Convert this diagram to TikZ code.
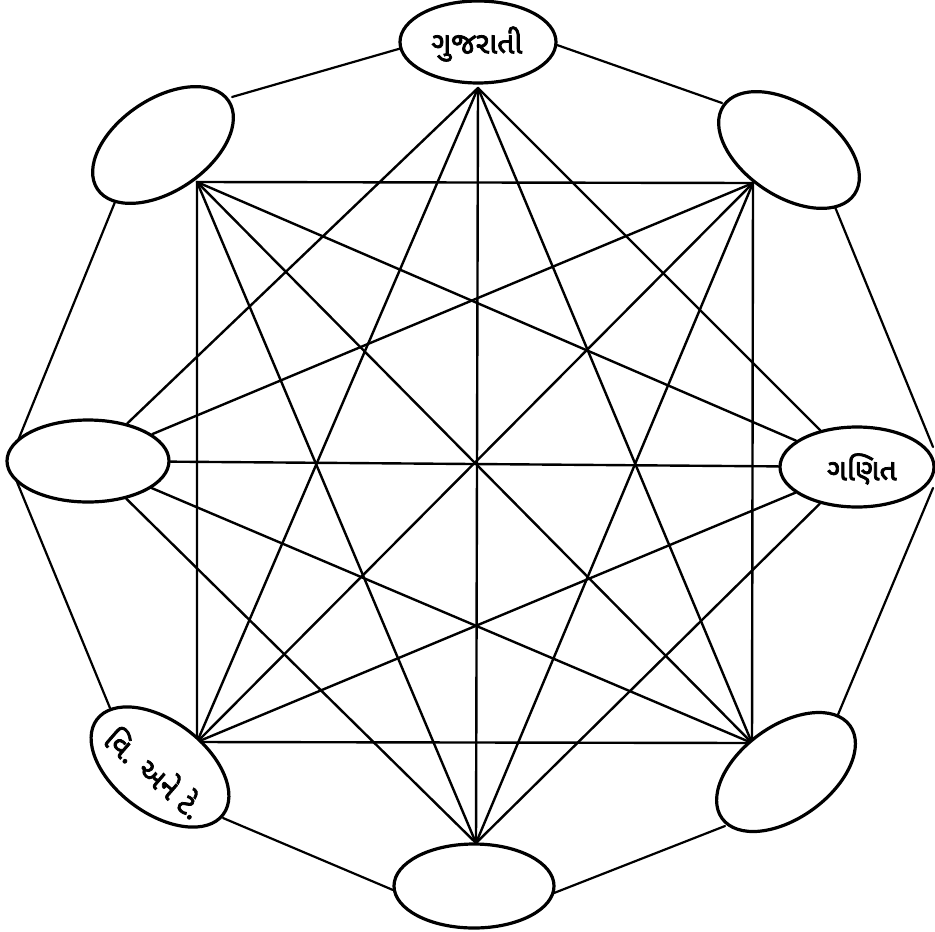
\documentclass[tikz,border=0pt]{standalone}
\usepackage{fontspec}
\newfontfamily\guj[Script=Gujarati,FakeBold=2.5]{Noto Sans Gujarati UI}
\usetikzlibrary{shapes.geometric,backgrounds}
\begin{document}
\begin{tikzpicture}[x=0.5pt,y=-0.5pt,
  chord/.style={line width=1.2pt,line cap=round},
  rim/.style={line width=1.1pt,line cap=round},
  bubble/.style={ellipse,draw,line width=1.6pt,fill=white,inner sep=0pt},
  lbl/.style={font=\guj\fontsize{15}{17}\selectfont,inner sep=0pt}]
\useasboundingbox (0,0) rectangle (935,931);

% ellipses
\node[bubble,minimum width=78pt,minimum height=41pt] (T) at (478,42) {};
\node[lbl] (Ttxt) at (477,44) {ગુજરાતી};
\node[bubble,minimum width=80pt,minimum height=42pt] (B) at (474,886) {};
\node[bubble,minimum width=81pt,minimum height=41pt] (L) at (88,461) {};
\node[bubble,minimum width=77pt,minimum height=40pt] (R) at (857,467) {};
\node[lbl] (Rtxt) at (862,469) {ગણિત};
\node[bubble,minimum width=79pt,minimum height=46pt,rotate=34] (TL) at (163,145) {};
\node[bubble,minimum width=79pt,minimum height=46pt,rotate=-34] (TR) at (789,150) {};
\node[bubble,minimum width=79pt,minimum height=46pt,rotate=-37] (BL) at (160,767) {};
\node[lbl,rotate=-41] (BLtxt) at (155,772) {વિ. અને ટે.};
\node[bubble,minimum width=79pt,minimum height=46pt,rotate=36] (BR) at (786,772) {};

% hubs
\coordinate (t) at (478,88);
\coordinate (b) at (476,843);
\coordinate (tl) at (197,182);
\coordinate (tr) at (753,183);
\coordinate (bl) at (197,742);
\coordinate (br) at (752,743);

% octagon rim points
\coordinate (o1a) at (115,202); \coordinate (o1b) at (17,443);
\coordinate (o2a) at (232,97);  \coordinate (o2b) at (402,48);
\coordinate (o3a) at (557,45);  \coordinate (o3b) at (722,103);
\coordinate (o4a) at (835,207); \coordinate (o4b) at (933,447);
\coordinate (o5a) at (933,488); \coordinate (o5b) at (837,717);
\coordinate (o6a) at (725,826); \coordinate (o6b) at (554,893);
\coordinate (o7a) at (393,890); \coordinate (o7b) at (223,818);
\coordinate (o8a) at (110,708); \coordinate (o8b) at (17,482);

\begin{pgfonlayer}{background}
% square
\draw[chord] (tl) -- (tr) -- (br) -- (bl) -- cycle;
% diamond
\draw[chord] (t) -- (R);
\draw[chord] (R) -- (b);
\draw[chord] (b) -- (L);
\draw[chord] (L) -- (t);
% star
\draw[chord] (t) -- (br);
\draw[chord] (tr) -- (b);
\draw[chord] (R) -- (bl);
\draw[chord] (br) -- (L);
\draw[chord] (b) -- (tl);
\draw[chord] (bl) -- (t);
\draw[chord] (L) -- (tr);
\draw[chord] (tl) -- (R);
% diameters
\draw[chord] (t) -- (b);
\draw[chord] (tr) -- (bl);
\draw[chord] (L) -- (R);
\draw[chord] (br) -- (tl);
% rim
\draw[rim] (o1a) -- (o1b);
\draw[rim] (o2a) -- (o2b);
\draw[rim] (o3a) -- (o3b);
\draw[rim] (o4a) -- (o4b);
\draw[rim] (o5a) -- (o5b);
\draw[rim] (o6a) -- (o6b);
\draw[rim] (o7a) -- (o7b);
\draw[rim] (o8a) -- (o8b);
\end{pgfonlayer}
\end{tikzpicture}
\end{document}
